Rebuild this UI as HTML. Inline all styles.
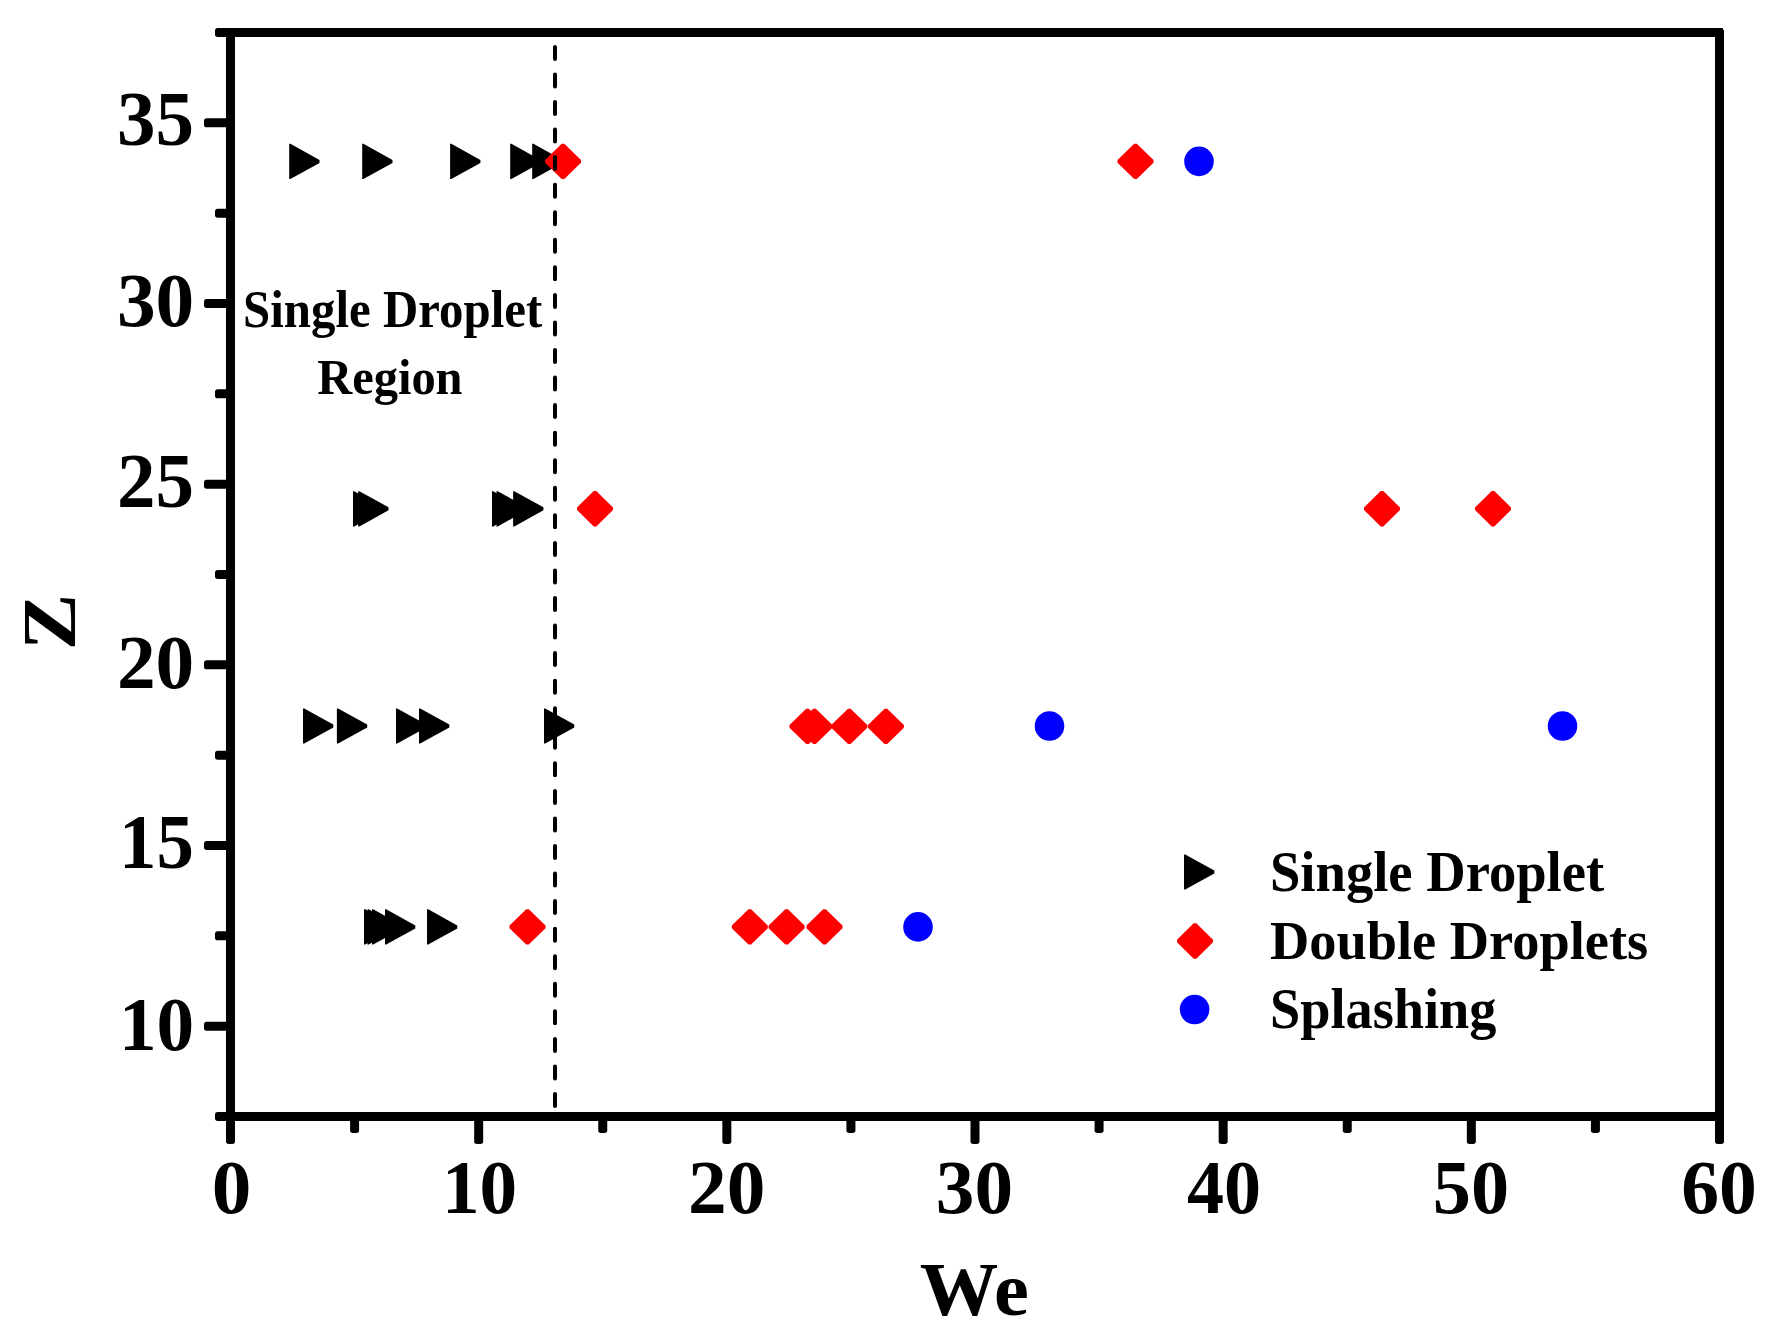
<!DOCTYPE html>
<html><head><meta charset="utf-8"><title>We-Z regime map</title>
<style>html,body{margin:0;padding:0;background:#fff;}body{width:1785px;height:1340px;overflow:hidden;}svg{display:block;}</style>
</head><body>
<svg width="1785" height="1340" viewBox="0 0 1785 1340">
<rect width="100%" height="100%" fill="#fff"/>
<g fill="#000">
<polygon points="289.2,143.8 290.4,143.8 319.5,159.9 319.5,162.9 290.4,179.0 289.2,179.0"/>
<polygon points="362.2,143.8 363.4,143.8 392.5,159.9 392.5,162.9 363.4,179.0 362.2,179.0"/>
<polygon points="450.1,143.8 451.3,143.8 480.4,159.9 480.4,162.9 451.3,179.0 450.1,179.0"/>
<polygon points="510.2,143.8 511.4,143.8 540.5,159.9 540.5,162.9 511.4,179.0 510.2,179.0"/>
<polygon points="532.2,143.8 533.4,143.8 562.5,159.9 562.5,162.9 533.4,179.0 532.2,179.0"/>
<polygon points="353.0,491.2 354.2,491.2 383.3,507.3 383.3,510.3 354.2,526.4 353.0,526.4"/>
<polygon points="358.2,491.2 359.4,491.2 388.5,507.3 388.5,510.3 359.4,526.4 358.2,526.4"/>
<polygon points="492.0,491.2 493.2,491.2 522.3,507.3 522.3,510.3 493.2,526.4 492.0,526.4"/>
<polygon points="496.5,491.2 497.7,491.2 526.8,507.3 526.8,510.3 497.7,526.4 496.5,526.4"/>
<polygon points="513.1,491.2 514.3,491.2 543.4,507.3 543.4,510.3 514.3,526.4 513.1,526.4"/>
<polygon points="303.0,708.4 304.2,708.4 333.3,724.5 333.3,727.5 304.2,743.6 303.0,743.6"/>
<polygon points="336.9,708.4 338.1,708.4 367.2,724.5 367.2,727.5 338.1,743.6 336.9,743.6"/>
<polygon points="396.0,708.4 397.2,708.4 426.3,724.5 426.3,727.5 397.2,743.6 396.0,743.6"/>
<polygon points="419.0,708.4 420.2,708.4 449.3,724.5 449.3,727.5 420.2,743.6 419.0,743.6"/>
<polygon points="544.0,708.4 545.2,708.4 574.3,724.5 574.3,727.5 545.2,743.6 544.0,743.6"/>
<polygon points="364.0,909.3 365.2,909.3 394.3,925.4 394.3,928.4 365.2,944.5 364.0,944.5"/>
<polygon points="367.5,909.3 368.7,909.3 397.8,925.4 397.8,928.4 368.7,944.5 367.5,944.5"/>
<polygon points="372.0,909.3 373.2,909.3 402.3,925.4 402.3,928.4 373.2,944.5 372.0,944.5"/>
<polygon points="385.0,909.3 386.2,909.3 415.3,925.4 415.3,928.4 386.2,944.5 385.0,944.5"/>
<polygon points="427.0,909.3 428.2,909.3 457.3,925.4 457.3,928.4 428.2,944.5 427.0,944.5"/>
</g><g fill="#f00">
<polygon points="561.7,143.7 564.3,143.7 581.0,160.1 581.0,162.7 564.3,179.1 561.7,179.1 545.0,162.7 545.0,160.1"/>
<polygon points="1134.2,143.7 1136.8,143.7 1153.5,160.1 1153.5,162.7 1136.8,179.1 1134.2,179.1 1117.5,162.7 1117.5,160.1"/>
<polygon points="593.7,491.1 596.3,491.1 613.0,507.5 613.0,510.1 596.3,526.5 593.7,526.5 577.0,510.1 577.0,507.5"/>
<polygon points="1380.7,491.1 1383.3,491.1 1400.0,507.5 1400.0,510.1 1383.3,526.5 1380.7,526.5 1364.0,510.1 1364.0,507.5"/>
<polygon points="1491.7,491.1 1494.3,491.1 1511.0,507.5 1511.0,510.1 1494.3,526.5 1491.7,526.5 1475.0,510.1 1475.0,507.5"/>
<polygon points="806.2,708.7 808.8,708.7 825.5,725.1 825.5,727.7 808.8,744.1 806.2,744.1 789.5,727.7 789.5,725.1"/>
<polygon points="813.2,708.7 815.8,708.7 832.5,725.1 832.5,727.7 815.8,744.1 813.2,744.1 796.5,727.7 796.5,725.1"/>
<polygon points="848.0,708.7 850.6,708.7 867.3,725.1 867.3,727.7 850.6,744.1 848.0,744.1 831.3,727.7 831.3,725.1"/>
<polygon points="884.6,708.7 887.2,708.7 903.9,725.1 903.9,727.7 887.2,744.1 884.6,744.1 867.9,727.7 867.9,725.1"/>
<polygon points="526.2,909.2 528.8,909.2 545.5,925.6 545.5,928.2 528.8,944.6 526.2,944.6 509.5,928.2 509.5,925.6"/>
<polygon points="748.5,909.2 751.1,909.2 767.8,925.6 767.8,928.2 751.1,944.6 748.5,944.6 731.8,928.2 731.8,925.6"/>
<polygon points="785.3,909.2 787.9,909.2 804.6,925.6 804.6,928.2 787.9,944.6 785.3,944.6 768.6,928.2 768.6,925.6"/>
<polygon points="823.2,909.2 825.8,909.2 842.5,925.6 842.5,928.2 825.8,944.6 823.2,944.6 806.5,928.2 806.5,925.6"/>
</g><g fill="#00f">
<circle cx="1199.0" cy="161.4" r="14.8"/>
<circle cx="1049.5" cy="726.0" r="14.8"/>
<circle cx="1562.5" cy="726.0" r="14.8"/>
<circle cx="918.0" cy="926.9" r="14.8"/>
</g>
<line x1="555" y1="46.9" x2="555" y2="1112" stroke="#000" stroke-width="4" stroke-dasharray="12 15.555" stroke-linecap="round"/>
<g stroke="#000" stroke-width="9" stroke-linecap="butt">
<line x1="226" y1="32.5" x2="1723" y2="32.5"/>
<line x1="1719.5" y1="30" x2="1719.5" y2="1121"/>
<line x1="230.5" y1="28" x2="230.5" y2="1121"/>
<line x1="226" y1="1116.5" x2="1724" y2="1116.5"/>
</g>
<g fill="#000">
<rect x="226.00" y="1112" width="9" height="32" rx="2.7"/>
<rect x="474.17" y="1112" width="9" height="32" rx="2.7"/>
<rect x="722.33" y="1112" width="9" height="32" rx="2.7"/>
<rect x="970.50" y="1112" width="9" height="32" rx="2.7"/>
<rect x="1218.67" y="1112" width="9" height="32" rx="2.7"/>
<rect x="1466.84" y="1112" width="9" height="32" rx="2.7"/>
<rect x="1715.00" y="1112" width="9" height="32" rx="2.7"/>
<rect x="350.08" y="1112" width="9" height="21" rx="2.7"/>
<rect x="598.25" y="1112" width="9" height="21" rx="2.7"/>
<rect x="846.42" y="1112" width="9" height="21" rx="2.7"/>
<rect x="1094.58" y="1112" width="9" height="21" rx="2.7"/>
<rect x="1342.75" y="1112" width="9" height="21" rx="2.7"/>
<rect x="1590.92" y="1112" width="9" height="21" rx="2.7"/>
<rect x="204" y="1021.67" width="31" height="9" rx="2.7"/>
<rect x="204" y="841.00" width="31" height="9" rx="2.7"/>
<rect x="204" y="660.33" width="31" height="9" rx="2.7"/>
<rect x="204" y="479.67" width="31" height="9" rx="2.7"/>
<rect x="204" y="299.00" width="31" height="9" rx="2.7"/>
<rect x="204" y="118.33" width="31" height="9" rx="2.7"/>
<rect x="215" y="1112.00" width="20" height="9" rx="2.7"/>
<rect x="215" y="931.33" width="20" height="9" rx="2.7"/>
<rect x="215" y="750.67" width="20" height="9" rx="2.7"/>
<rect x="215" y="570.00" width="20" height="9" rx="2.7"/>
<rect x="215" y="389.33" width="20" height="9" rx="2.7"/>
<rect x="215" y="208.67" width="20" height="9" rx="2.7"/>
<rect x="215" y="28.00" width="20" height="9" rx="2.7"/>
</g>
<g font-family="'Liberation Serif','Times New Roman',serif" font-weight="bold" fill="#000">
<text transform="matrix(0.38486 0 0 0.38806 116.92 145.22)" font-size="200">35</text>
<text transform="matrix(0.38696 0 0 0.38519 116.90 326.23)" font-size="200">30</text>
<text transform="matrix(0.38486 0 0 0.38806 116.92 507.22)" font-size="200">25</text>
<text transform="matrix(0.38696 0 0 0.38519 116.90 688.23)" font-size="200">20</text>
<text transform="matrix(0.37401 0 0 0.39098 119.02 868.22)" font-size="200">15</text>
<text transform="matrix(0.37614 0 0 0.38519 118.98 1050.23)" font-size="200">10</text>
<text transform="matrix(0.39643 0 0 0.38519 211.63 1213.23)" font-size="200">0</text>
<text transform="matrix(0.37614 0 0 0.38519 441.98 1213.23)" font-size="200">10</text>
<text transform="matrix(0.38641 0 0 0.38519 688.01 1213.23)" font-size="200">20</text>
<text transform="matrix(0.38641 0 0 0.38519 935.81 1213.23)" font-size="200">30</text>
<text transform="matrix(0.37037 0 0 0.38519 1186.99 1213.23)" font-size="200">40</text>
<text transform="matrix(0.38152 0 0 0.38519 1432.85 1213.23)" font-size="200">50</text>
<text transform="matrix(0.37838 0 0 0.38519 1681.15 1213.23)" font-size="200">60</text>
<text transform="matrix(0.39259 0 0 0.38346 919.82 1314.85)" font-size="200">We</text>
<text transform="matrix(0.24439 0 0 0.26269 243.11 326.57)" font-size="200">Single Droplet</text>
<text transform="matrix(0.24242 0 0 0.25385 317.17 393.90)" font-size="200">Region</text>
<text transform="matrix(0.27310 0 0 0.28358 1270.00 891.43)" font-size="200">Single Droplet</text>
<text transform="matrix(0.27207 0 0 0.27481 1269.91 959.00)" font-size="200">Double Droplets</text>
<text transform="matrix(0.27162 0 0 0.28358 1270.01 1028.43)" font-size="200">Splashing</text>
<text transform="matrix(0 -0.42478 0.38462 0 75.00 650.25)" font-size="200">Z</text>
</g>
<g fill="#000"><polygon points="1184.0,854.4 1185.2,854.4 1214.3,870.5 1214.3,873.5 1185.2,889.6 1184.0,889.6"/></g>
<g fill="#f00"><polygon points="1193.7,923.3 1196.3,923.3 1213.0,939.7 1213.0,942.3 1196.3,958.7 1193.7,958.7 1177.0,942.3 1177.0,939.7"/></g>
<g fill="#00f"><circle cx="1194.6" cy="1009.5" r="14.8"/></g>
</svg>
</body></html>
